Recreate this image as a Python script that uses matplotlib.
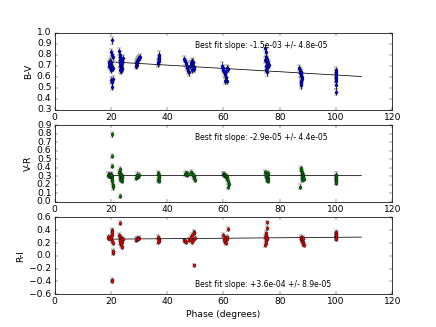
import numpy as np
import matplotlib
matplotlib.use("Agg")
import matplotlib.pyplot as plt

plt.style.use("classic")

# ---- data ----
bv_phase = [19.2, 19.4, 19.6, 19.8, 20.0, 20.2, 20.4, 20.3, 20.1, 20.5, 20.6, 20.2, 20.4, 20.6, 20.5, 20.8, 20.0,
            23.0, 23.2, 23.4, 23.6, 23.8, 24.0, 23.1, 23.3, 23.5, 23.7, 23.9, 24.1, 23.4, 23.6, 23.2, 24.2, 23.8,
            28.8, 29.0, 29.2, 29.4, 29.6, 29.8, 30.0, 30.2, 29.3,
            36.8, 37.0, 37.2, 37.0, 37.1, 36.9,
            46.0, 46.4, 46.8, 47.0, 47.2, 47.4, 47.6, 48.2, 48.6, 49.0, 49.2, 49.4, 48.8, 49.6, 48.4,
            59.6, 59.8, 60.0, 60.2, 60.6, 61.0, 61.4, 60.4, 61.2, 61.6, 60.8,
            74.6, 75.0, 75.2, 75.4, 75.6, 75.8, 75.0, 75.4, 75.2, 75.6, 74.8, 76.0,
            87.0, 87.2, 87.4, 87.6, 87.8, 88.0, 87.5, 87.7, 87.6, 87.3,
            100.0, 100.0, 100.0, 100.0, 100.0, 100.0, 100.0, 100.0]
bv_value = [0.70, 0.72, 0.74, 0.71, 0.68, 0.73, 0.69, 0.93, 0.82, 0.80, 0.78, 0.57, 0.55, 0.58, 0.51, 0.68, 0.66,
            0.83, 0.80, 0.78, 0.76, 0.74, 0.73, 0.72, 0.71, 0.70, 0.69, 0.68, 0.67, 0.66, 0.65, 0.75, 0.77, 0.72,
            0.70, 0.72, 0.73, 0.74, 0.75, 0.76, 0.77, 0.78, 0.71,
            0.72, 0.74, 0.76, 0.78, 0.80, 0.73,
            0.76, 0.74, 0.72, 0.70, 0.68, 0.65, 0.64, 0.70, 0.72, 0.74, 0.73, 0.67, 0.66, 0.69, 0.71,
            0.70, 0.68, 0.66, 0.64, 0.62, 0.60, 0.56, 0.56, 0.68, 0.67, 0.65,
            0.86, 0.82, 0.78, 0.76, 0.74, 0.72, 0.70, 0.68, 0.66, 0.64, 0.75, 0.71,
            0.68, 0.66, 0.64, 0.62, 0.60, 0.58, 0.56, 0.54, 0.52, 0.63,
            0.66, 0.64, 0.62, 0.60, 0.58, 0.56, 0.52, 0.46]
bv_err = [0.03] * len(bv_value)

vr_phase = [19.0, 19.3, 19.6, 19.9, 20.2, 20.3, 20.3, 20.4, 20.4, 20.5, 20.5, 20.6, 20.6, 20.0,
            23.0, 23.2, 23.4, 23.6, 23.8, 24.0, 23.1, 23.5, 23.9, 23.3, 23.7, 24.1, 23.4,
            28.8, 29.2, 29.6, 30.0, 29.4,
            36.9, 37.0, 37.1, 37.0, 36.9, 37.1,
            46.2, 46.6, 47.0, 47.4, 48.6, 49.0, 49.4, 49.6, 49.8, 49.2,
            59.8, 60.2, 60.6, 61.0, 61.2, 61.4, 61.6, 61.8, 61.6,
            74.8, 75.0, 75.2, 75.4, 75.6, 75.8, 75.3, 75.5, 75.7, 75.1, 75.9,
            87.4, 87.6, 87.8, 88.0, 88.2, 88.4, 87.8, 88.2, 88.6, 88.0, 87.2,
            100.0, 100.0, 100.0, 100.0, 100.0, 100.0]
vr_value = [0.32, 0.31, 0.30, 0.32, 0.31, 0.79, 0.54, 0.42, 0.30, 0.27, 0.24, 0.20, 0.17, 0.31,
            0.35, 0.33, 0.31, 0.30, 0.29, 0.28, 0.27, 0.26, 0.25, 0.38, 0.32, 0.30, 0.07,
            0.28, 0.29, 0.30, 0.31, 0.32,
            0.34, 0.32, 0.30, 0.28, 0.26, 0.25,
            0.33, 0.34, 0.32, 0.33, 0.35, 0.33, 0.30, 0.28, 0.26, 0.31,
            0.33, 0.32, 0.31, 0.30, 0.29, 0.27, 0.24, 0.21, 0.18,
            0.35, 0.33, 0.31, 0.30, 0.29, 0.28, 0.27, 0.26, 0.25, 0.32, 0.34,
            0.40, 0.37, 0.35, 0.33, 0.31, 0.30, 0.29, 0.28, 0.27, 0.26, 0.18,
            0.32, 0.30, 0.28, 0.26, 0.24, 0.22]
vr_err = [0.025] * len(vr_value)

ri_phase = [19.0, 19.3, 19.6, 19.9, 20.3, 20.4, 20.5, 20.5, 20.6, 20.6, 20.6, 20.5, 20.5,
            23.2, 23.0, 23.3, 23.5, 23.7, 23.9, 24.1, 23.4, 23.6, 23.8, 24.2, 23.1,
            28.8, 29.2, 29.6, 30.0, 29.4,
            36.9, 37.0, 37.1, 37.0, 36.9,
            46.0, 46.4, 46.8, 47.6, 48.2, 48.6, 49.0, 49.4, 49.6, 49.8, 49.2, 49.0, 49.4,
            60.0, 60.4, 60.8, 60.2, 60.6, 61.0, 61.2, 61.6, 61.4,
            75.6, 75.4, 75.2, 75.0, 74.8, 75.3, 75.1, 75.0, 74.9, 75.5,
            87.4, 87.6, 87.8, 88.0, 88.2, 88.4, 88.6, 87.9, 88.3,
            100.0, 100.0, 100.0, 100.0, 100.0, 100.0, 100.0]
ri_value = [0.29, 0.27, 0.30, 0.28, 0.40, 0.37, 0.33, 0.23, 0.20, 0.07, 0.04, -0.38, -0.40,
            0.51, 0.32, 0.30, 0.28, 0.26, 0.24, 0.22, 0.20, 0.17, 0.14, 0.27, 0.25,
            0.25, 0.26, 0.27, 0.28, 0.26,
            0.29, 0.27, 0.25, 0.23, 0.21,
            0.24, 0.23, 0.22, 0.25, 0.27, 0.30, 0.33, 0.37, 0.35, 0.28, 0.25, 0.21, -0.15,
            0.32, 0.28, 0.26, 0.24, 0.22, 0.20, 0.27, 0.42, 0.30,
            0.52, 0.43, 0.36, 0.33, 0.30, 0.27, 0.24, 0.20, 0.17, 0.28,
            0.29, 0.27, 0.25, 0.23, 0.21, 0.19, 0.17, 0.26, 0.28,
            0.37, 0.34, 0.32, 0.30, 0.28, 0.26, 0.33]
ri_err = [0.03] * len(ri_value)

fit_slopes = [-1.5e-3, -2.9e-5, 3.6e-4]
fit_intercepts = [0.765, 0.311, 0.253]
fit_range = [19.0, 109.0]
fit_labels = ["Best fit slope: -1.5e-03 +/- 4.8e-05",
              "Best fit slope: -2.9e-05 +/- 4.4e-05",
              "Best fit slope: +3.6e-04 +/- 8.9e-05"]
ylabels = ["B-V", "V-R", "R-I"]
colors = ["b", "g", "r"]
ylims = [(0.3, 1.0), (0.0, 0.9), (-0.6, 0.6)]
yticks = [np.arange(0.3, 1.01, 0.1), np.arange(0.0, 0.91, 0.1), np.arange(-0.6, 0.61, 0.2)]
text_pos = [(50, 0.885), (50, 0.75), (50, -0.45)]

fig, axes = plt.subplots(3, 1, figsize=(8, 6), dpi=54.5)
data = [(bv_phase, bv_value, bv_err), (vr_phase, vr_value, vr_err), (ri_phase, ri_value, ri_err)]
for i, ax in enumerate(axes):
    x, y, e = data[i]
    ax.errorbar(x, y, yerr=e, fmt="o", color=colors[i], ecolor="k", mec="k",
                ms=4, mew=0.5, capsize=3, elinewidth=1)
    xf = np.array(fit_range)
    ax.plot(xf, fit_intercepts[i] + fit_slopes[i] * xf, "k-", lw=1)
    ax.set_xlim(0, 120)
    ax.set_ylim(*ylims[i])
    ax.set_yticks(yticks[i])
    ax.set_xticks(np.arange(0, 121, 20))
    ax.set_ylabel(ylabels[i])
    ax.text(text_pos[i][0], text_pos[i][1], fit_labels[i], fontsize=10, va="center", ha="left")
axes[2].set_xlabel("Phase (degrees)")
fig.savefig("out.png", dpi=54.5)
